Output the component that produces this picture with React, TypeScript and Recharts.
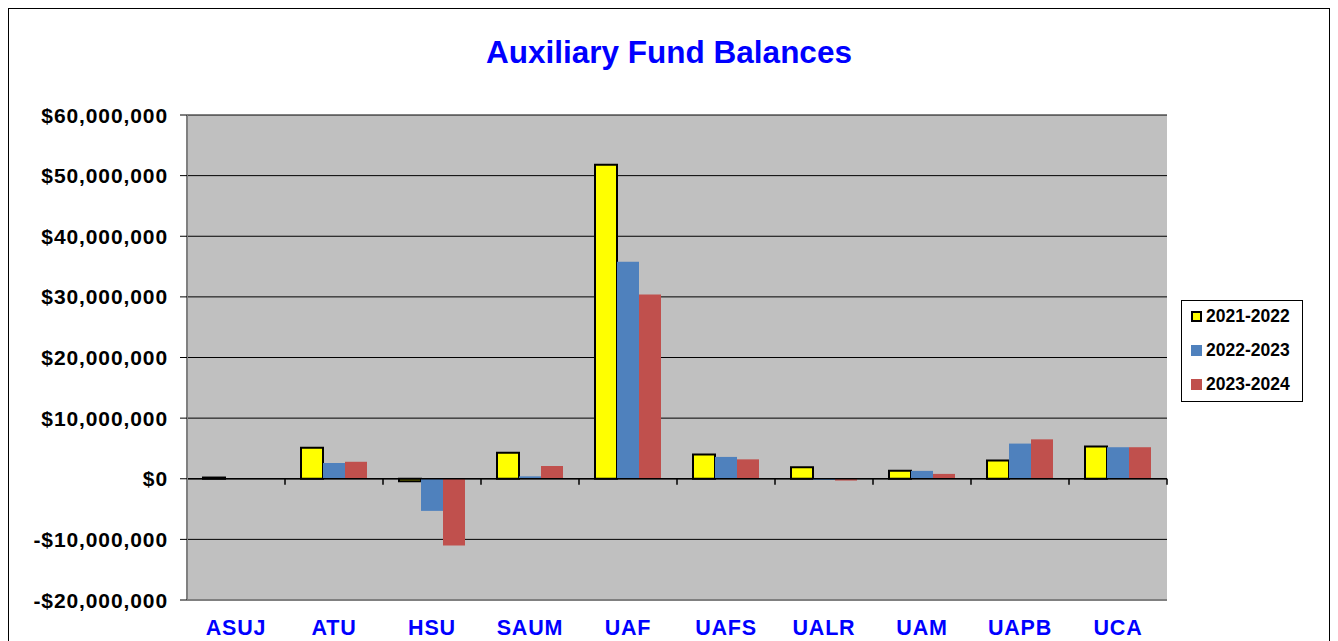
import React from 'react';
import {
  BarChart,
  Bar,
  XAxis,
  YAxis,
  CartesianGrid,
  Legend,
  ReferenceLine,
} from 'recharts';

// Campus codes along the x axis
const campuses = ['ASUJ', 'ATU', 'HSU', 'SAUM', 'UAF', 'UAFS', 'UALR', 'UAM', 'UAPB', 'UCA'];

// Fund balances in dollars
const fy2122 = [200000, 5100000, -400000, 4300000, 51800000, 4000000, 1900000, 1300000, 3000000, 5300000];
const fy2223 = [0, 2600000, -5300000, 400000, 35800000, 3600000, -200000, 1300000, 5800000, 5200000];
const fy2324 = [0, 2800000, -11000000, 2100000, 30400000, 3200000, -300000, 800000, 6500000, 5200000];

const yTicks = [-20000000, -10000000, 0, 10000000, 20000000, 30000000, 40000000, 50000000, 60000000];

const seriesNames = ['2021-2022', '2022-2023', '2023-2024'];

const data = campuses.map((name, i) => ({
  name,
  a: fy2122[i],
  b: fy2223[i],
  c: fy2324[i],
}));

const money = (v: number) => {
  const s = '$' + Math.abs(v).toLocaleString('en-US');
  return v < 0 ? '-' + s : s;
};

const font = 'Arial, "Liberation Sans", Helvetica, sans-serif';

const YTick = (props: any) => {
  const { x, y, payload } = props;
  return (
    <text
      x={x}
      y={y}
      textAnchor="end"
      dominantBaseline="central"
      style={{ fontFamily: font, fontWeight: 'bold', fontSize: 21, letterSpacing: 0.9, fill: '#000' }}
    >
      {money(payload.value)}
    </text>
  );
};

const XTick = (props: any) => {
  const { x, y, payload } = props;
  return (
    <text
      x={x}
      y={y}
      textAnchor="middle"
      dominantBaseline="central"
      style={{ fontFamily: font, fontWeight: 'bold', fontSize: 21.5, letterSpacing: 0.8, fill: '#0000FF' }}
    >
      {payload.value}
    </text>
  );
};

// zero line with tick marks at the category boundaries
const ZeroLine = (props: any) => {
  const { x1, x2, y1 } = props;
  const step = (x2 - x1) / campuses.length;
  return (
    <g>
      <line x1={x1} x2={x2} y1={y1} y2={y1} stroke="#000" strokeWidth={1.5} />
      {campuses.map((c, i) => (
        <line
          key={c}
          x1={x1 + step * (i + 1)}
          x2={x1 + step * (i + 1)}
          y1={y1}
          y2={y1 + 6}
          stroke="#000"
          strokeWidth={1.5}
        />
      ))}
    </g>
  );
};

const LegendBox = () => {
  const swatches = [
    { fill: '#FFFF00', stroke: '#000' },
    { fill: '#4F81BD', stroke: 'none' },
    { fill: '#C0504D', stroke: 'none' },
  ];
  return (
    <div
      style={{
        border: '1px solid #000',
        background: '#fff',
        width: 122,
        height: 102,
        boxSizing: 'border-box',
        padding: '0 0 0 9px',
        fontFamily: font,
        fontWeight: 'bold',
        fontSize: 17.5,
        color: '#000',
      }}
    >
      {seriesNames.map((n, i) => (
        <div key={n} style={{ display: 'flex', alignItems: 'center', height: 34, marginTop: i === 0 ? -2 : 0 }}>
          <span
            style={{
              display: 'inline-block',
              width: 11,
              height: 11,
              background: swatches[i].fill,
              border: swatches[i].stroke === 'none' ? 'none' : '2px solid #000',
              boxSizing: 'border-box',
              marginRight: 4,
            }}
          />
          {n}
        </div>
      ))}
    </div>
  );
};

export default function App() {
  return (
    <div
      style={{
        position: 'relative',
        width: 1322,
        height: 650,
        border: '1px solid #000',
        boxSizing: 'border-box',
        background: '#fff',
      }}
    >
      <div
        style={{
          position: 'absolute',
          top: 25,
          left: 0,
          width: 1320,
          textAlign: 'center',
          fontFamily: font,
          fontWeight: 'bold',
          fontSize: 31.5,
          color: '#0000FF',
        }}
      >
        Auxiliary Fund Balances
      </div>
      <BarChart
        width={1320}
        height={640}
        data={data}
        margin={{ top: 106, right: 162, left: 0, bottom: 0 }}
        barCategoryGap={16}
        barGap={0}
      >
        <CartesianGrid fill="#C0C0C0" stroke="#000" vertical={false} strokeOpacity={1} />
        <XAxis
          dataKey="name"
          height={49}
          axisLine={{ stroke: '#808080', strokeWidth: 2 }}
          tickLine={false}
          tickSize={0}
          tickMargin={28}
          tick={<XTick />}
        />
        <XAxis
          xAxisId="top"
          dataKey="name"
          orientation="top"
          height={0}
          tick={false}
          tickLine={false}
          axisLine={{ stroke: '#808080', strokeWidth: 2 }}
        />
        <YAxis
          width={178}
          domain={[-20000000, 60000000]}
          ticks={yTicks}
          interval={0}
          axisLine={{ stroke: '#808080', strokeWidth: 2 }}
          tickLine={{ stroke: '#000' }}
          tickSize={7}
          tickMargin={12}
          tick={<YTick />}
        />
        <YAxis
          yAxisId="r"
          orientation="right"
          width={0}
          domain={[-20000000, 60000000]}
          tick={false}
          tickLine={false}
          axisLine={{ stroke: '#808080', strokeWidth: 2 }}
        />
        <Legend
          layout="horizontal"
          verticalAlign="middle"
          align="center"
          content={<LegendBox />}
          wrapperStyle={{ position: 'absolute', left: 1172, top: 291, width: 122 }}
        />
        <Bar dataKey="a" name={seriesNames[0]} fill="#FFFF00" stroke="#000" strokeWidth={2} isAnimationActive={false} />
        <Bar dataKey="b" name={seriesNames[1]} fill="#4F81BD" isAnimationActive={false} />
        <Bar dataKey="c" name={seriesNames[2]} fill="#C0504D" isAnimationActive={false} />
        <ReferenceLine y={0} shape={ZeroLine} />
      </BarChart>
    </div>
  );
}
